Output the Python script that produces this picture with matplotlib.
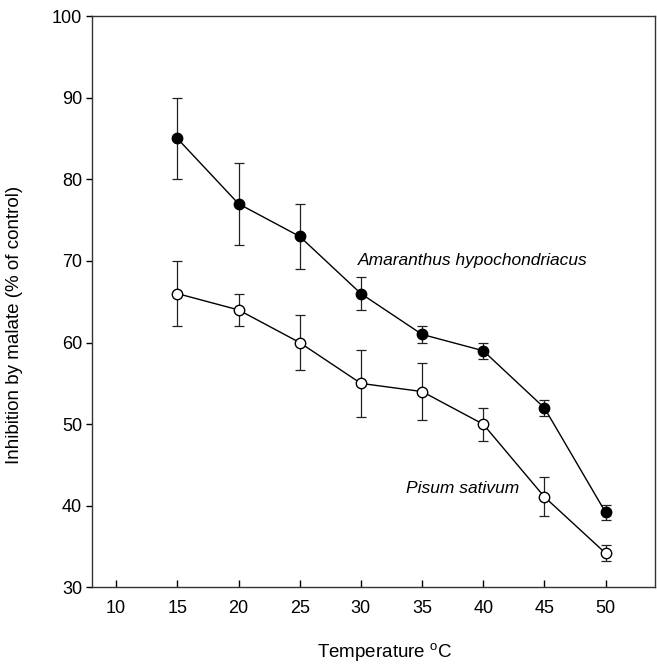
import numpy as np
import matplotlib
matplotlib.use("Agg")
import matplotlib.pyplot as plt

plt.rcParams['font.family'] = ['Liberation Sans', 'DejaVu Sans']
plt.rcParams['mathtext.fontset'] = 'custom'
plt.rcParams['mathtext.rm'] = 'Liberation Sans'

# Data
temperature = [15, 20, 25, 30, 35, 40, 45, 50]
amaranthus = [85, 77, 73, 66, 61, 59, 52, 39.2]
amaranthus_err = [5, 5, 4, 2, 1, 1, 1, 0.9]
pisum = [66, 64, 60, 55, 54, 50, 41.1, 34.2]
pisum_err = [4, 2, 3.4, 4.1, 3.5, 2, 2.4, 1]

xticks = [10, 15, 20, 25, 30, 35, 40, 45, 50]
yticks = [30, 40, 50, 60, 70, 80, 90, 100]

fig = plt.figure(figsize=(6.57, 6.67), dpi=100)
ax = fig.add_axes([0.1396, 0.1192, 0.8566, 0.8568])

ax.errorbar(temperature, amaranthus, yerr=amaranthus_err, fmt='-o', color='k',
            mfc='k', mec='k', ms=7.5, lw=1, elinewidth=0.9, capsize=3.3,
            capthick=0.9, ecolor='#222222')
ax.errorbar(temperature, pisum, yerr=pisum_err, fmt='-o', color='k',
            mfc='white', mec='k', ms=7.5, lw=1, elinewidth=0.9, capsize=3.3,
            capthick=0.9, ecolor='#222222')

ax.text(29.75, 70, 'Amaranthus hypochondriacus', style='italic', fontsize=12.5,
        va='center', ha='left')
ax.text(33.65, 42.15, 'Pisum sativum', style='italic', fontsize=12.5,
        va='center', ha='left')

ax.set_xlim(8, 54)
ax.set_ylim(30, 100)
ax.set_xticks(xticks)
ax.set_yticks(yticks)
ax.tick_params(axis='x', direction='in', length=5, width=1, pad=9, labelsize=13)
ax.tick_params(axis='y', direction='out', length=4, width=1, pad=3, labelsize=13)

for s in ax.spines.values():
    s.set_linewidth(1)
    s.set_color('#333333')

ax.set_xlabel('Temperature $^{\\rm o}$C', fontsize=13.5)
ax.set_ylabel('Inhibition by malate (% of control)', fontsize=13.5)
ax.xaxis.set_label_coords(0.52, -0.095)
ax.yaxis.set_label_coords(-0.122, 0.46)

fig.savefig('out.png', dpi=100)
